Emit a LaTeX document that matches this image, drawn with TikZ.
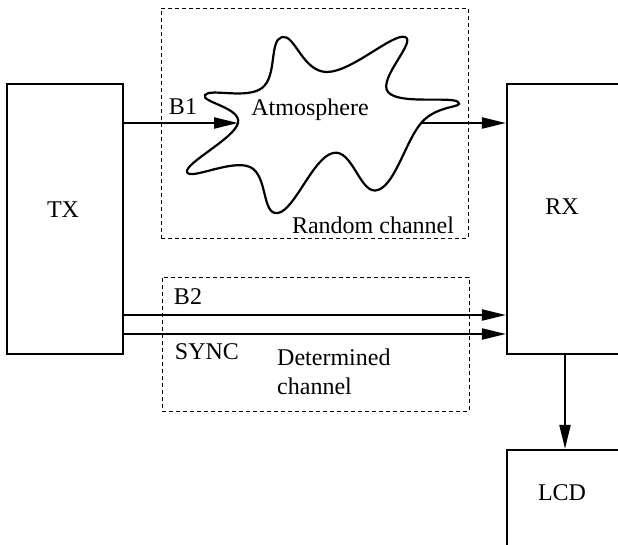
\documentclass[tikz,border=0pt]{standalone}
\usepackage{fontspec}
\setmainfont{Liberation Serif}
\usetikzlibrary{arrows.meta}
\begin{document}
\begin{tikzpicture}[x=1pt,y=-1pt,
  box/.style={draw,line width=2.2pt,inner sep=0pt},
  frame/.style={draw,line width=0.9pt,dash pattern=on 4pt off 3pt,inner sep=0pt},
  sig/.style={line width=2.2pt,-{Triangle[length=24pt,width=11pt]}},
  lbl/.style={font=\fontsize{24}{29}\selectfont,inner sep=0pt}]
\useasboundingbox (0,0) rectangle (618,545);
\clip (0,0) rectangle (618,545);

% channel frames
\node[frame,minimum width=307pt,minimum height=230pt] (rand) at (314.5,123) {};
\node[frame,minimum width=307pt,minimum height=134pt] (det) at (315.5,344) {};

% transmitter, receiver, display
\node[box,minimum width=116pt,minimum height=270pt] (tx) at (65,219) {};
\node[box,minimum width=116pt,minimum height=270pt] (rx) at (565,219) {};
\node[box,minimum width=116pt,minimum height=120pt] (lcd) at (565,510) {};
\node[lbl] (txl) at (63,210) {TX};
\node[lbl] (rxl) at (562,207) {RX};
\node[lbl] (lcdl) at (562,493) {LCD};

% atmosphere cloud
\draw[line width=2.2pt] plot[smooth cycle,tension=0.72] coordinates {
  (238,123) (205,95) (262,88) (282,37) (327,72) (405,37) (388,92)
  (458,102) (422,122) (378,190) (333,153) (278,213) (250,167) (187,172)};
\coordinate (cin) at (238,123);
\coordinate (cout) at (422,123);
\node[lbl] (atm) at (310,110) {Atmosphere};
\node[lbl] (randl) at (373,225) {Random channel};

% signal paths
\draw[sig] (tx.east |- cin) -- (cin);
\draw[sig] (cout) -- (rx.west |- cout);
\coordinate (b2) at ([yshift=-96pt]tx.east);
\coordinate (sy) at ([yshift=-115pt]tx.east);
\draw[sig] (b2) -- (rx.west |- b2);
\draw[sig] (sy) -- (rx.west |- sy);
\draw[sig] (rx.south) -- (lcd.north);

\node[lbl] (b1l) at (183,107) {B1};
\node[lbl] (b2l) at (188,297) {B2};
\node[lbl] (syl) at (207,352) {SYNC};
\node[lbl,align=left,anchor=west] (detl) at (277,372) {Determined\\channel};
\end{tikzpicture}
\end{document}
